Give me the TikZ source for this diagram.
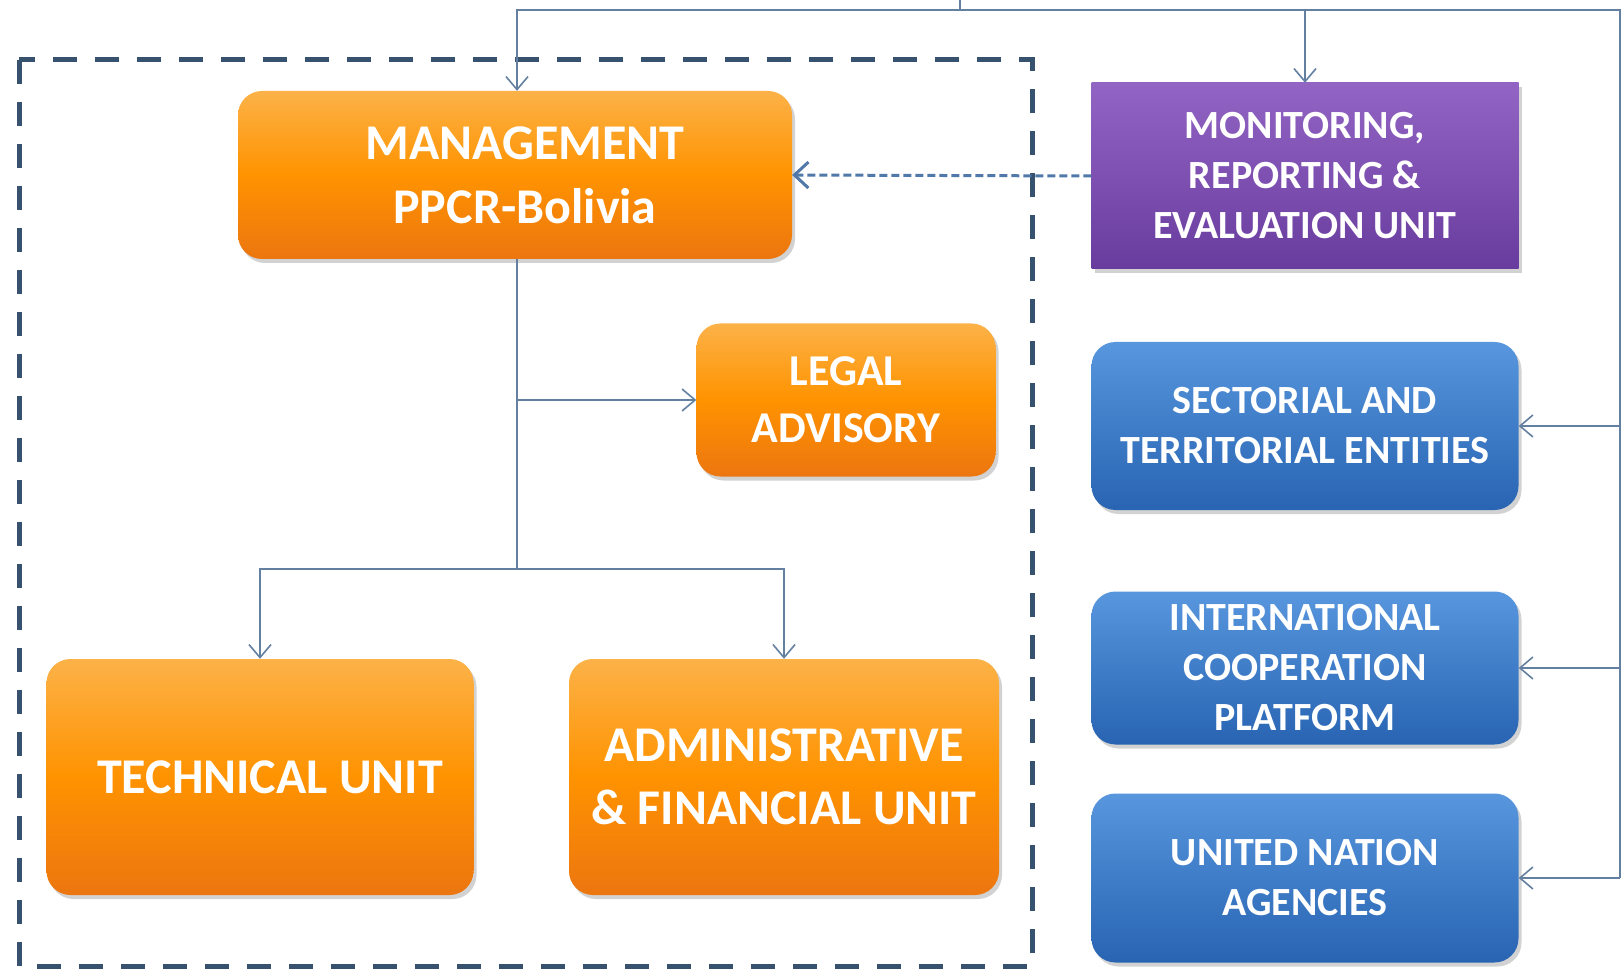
\documentclass[tikz,border=0pt]{standalone}
\usepackage{fontspec}
\setmainfont{Carlito}
\usetikzlibrary{arrows.meta,shadows,positioning}
\definecolor{orangeTop}{RGB}{252,178,72}
\definecolor{orangeBot}{RGB}{236,118,16}
\definecolor{blueTop}{RGB}{88,150,222}
\definecolor{blueBot}{RGB}{40,100,178}
\definecolor{purpTop}{RGB}{146,100,196}
\definecolor{purpBot}{RGB}{104,60,158}
\definecolor{connCol}{RGB}{100,128,160}
\definecolor{frameCol}{RGB}{55,82,110}
\definecolor{dashCol}{RGB}{80,120,168}
\tikzset{
  box/.style={draw=none, text=white, align=center, font=\bfseries,
    drop shadow={opacity=0.35, shadow xshift=3pt, shadow yshift=-4pt}},
  obox/.style={box, rounded corners=24pt, top color=orangeTop, bottom color=orangeBot, middle color=orange!85!yellow},
  bbox/.style={box, rounded corners=24pt, top color=blueTop, bottom color=blueBot},
  pbox/.style={box, top color=purpTop, bottom color=purpBot},
  conn/.style={draw=connCol, line width=1.6pt},
  tip/.style={-{Straight Barb[length=13pt,width=22pt,line width=1.6pt]}},
  dasharrow/.style={draw=dashCol, line width=3pt, dash pattern=on 8pt off 4pt,
    -{Straight Barb[length=14pt,width=26pt,line width=3pt]}},
  framebox/.style={draw=frameCol, line width=5pt, dash pattern=on 24pt off 18pt}
}
\begin{document}
\begin{tikzpicture}[x=1pt,y=-1pt]
\fill[white] (0,0) rectangle (1623,973);
\useasboundingbox (0,0) rectangle (1623,973);
% dashed frame
\coordinate (f1) at (19,60);
\coordinate (f2) at (1032,966);
\draw[framebox] (f1) rectangle (f2);
% nodes
\node[obox, minimum width=554pt, minimum height=168pt, font=\bfseries\fontsize{50}{64}\selectfont] (mgmt) at (515,175) {\hspace*{20pt}MANAGEMENT\\\hspace*{20pt}PPCR-Bolivia};
\node[obox, minimum width=299pt, minimum height=153pt, font=\bfseries\fontsize{44}{57}\selectfont] (legal) at (846,400) {LEGAL\\ADVISORY};
\node[obox, minimum width=427pt, minimum height=236pt, font=\bfseries\fontsize{50}{63}\selectfont] (tech) at (260,777) {\hspace*{20pt}TECHNICAL UNIT};
\node[obox, minimum width=430pt, minimum height=236pt, font=\bfseries\fontsize{50}{63}\selectfont] (admin) at (784,777) {ADMINISTRATIVE\\\& FINANCIAL UNIT};
\node[pbox, minimum width=427pt, minimum height=186pt, font=\bfseries\fontsize{40}{50}\selectfont] (mon) at (1305,176) {MONITORING,\\REPORTING \&\\EVALUATION UNIT};
\node[bbox, minimum width=427pt, minimum height=168pt, font=\bfseries\fontsize{40}{50}\selectfont] (sect) at (1305,426) {SECTORIAL AND\\TERRITORIAL ENTITIES};
\node[bbox, minimum width=427pt, minimum height=153pt, font=\bfseries\fontsize{40}{50}\selectfont] (intl) at (1305,668) {INTERNATIONAL\\COOPERATION\\PLATFORM};
\node[bbox, minimum width=427pt, minimum height=169pt, font=\bfseries\fontsize{40}{50}\selectfont] (un) at (1305,878) {UNITED NATION\\AGENCIES};
% connectors
\coordinate (src) at (960,0);
\coordinate (bus) at (960,10);
\coordinate (tl) at (517,10);
\coordinate (re) at (1620,10);
\coordinate (split) at (517,569);
\draw[conn] (src) -- (bus);
\draw[conn,tip] (bus) -| (tl |- mgmt.north);
\draw[conn,tip] (bus) -| (mon.north);
\draw[conn] (bus) -- (re) -- (re |- un.east);
\draw[conn,tip] (re |- sect.east) -- (sect.east);
\draw[conn,tip] (re |- intl.east) -- (intl.east);
\draw[conn,tip] (re |- un.east) -- (un.east);
\draw[conn] (tl |- mgmt.south) -- (split);
\draw[conn,tip] (tl |- legal.west) -- (legal.west);
\draw[conn,tip] (split) -| (tech.north);
\draw[conn,tip] (split) -| (admin.north);
\draw[dasharrow] (mon.west) -- (mgmt.east);
\end{tikzpicture}
\end{document}
